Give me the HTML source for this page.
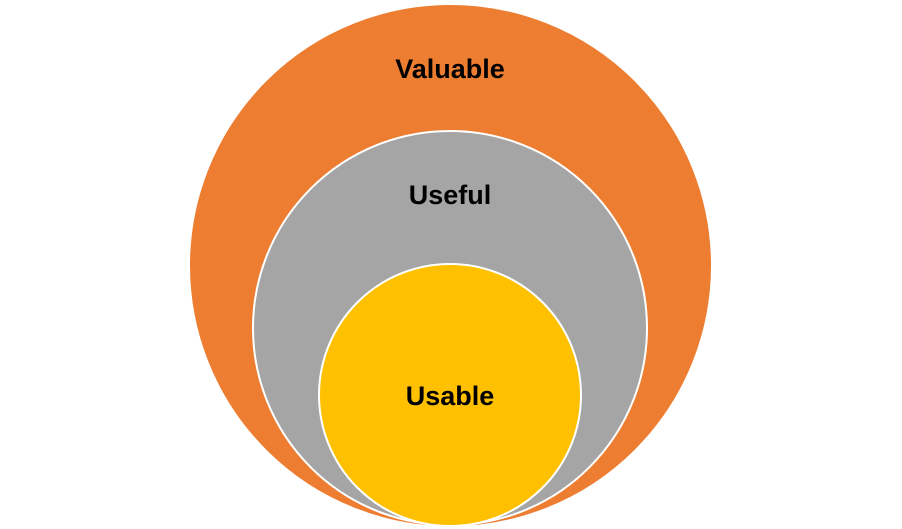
<!DOCTYPE html>
<html><head><meta charset="utf-8"><style>
html,body{margin:0;padding:0;background:#fff;}
svg{display:block;}
text{font-family:"Liberation Sans",sans-serif;font-weight:bold;font-size:27px;fill:#000;text-anchor:middle;}
</style></head><body>
<svg width="902" height="529" viewBox="0 0 902 529">
<circle cx="450.5" cy="265.5" r="261.5" fill="#ED7D31" stroke="#fff" stroke-width="2"/>
<circle cx="450" cy="328" r="197" fill="#A5A5A5" stroke="#fff" stroke-width="2"/>
<circle cx="450" cy="395" r="131" fill="#FFC000" stroke="#fff" stroke-width="2"/>
<text x="450" y="78">Valuable</text>
<text x="450" y="204">Useful</text>
<text x="450" y="405">Usable</text>
</svg>
</body></html>
